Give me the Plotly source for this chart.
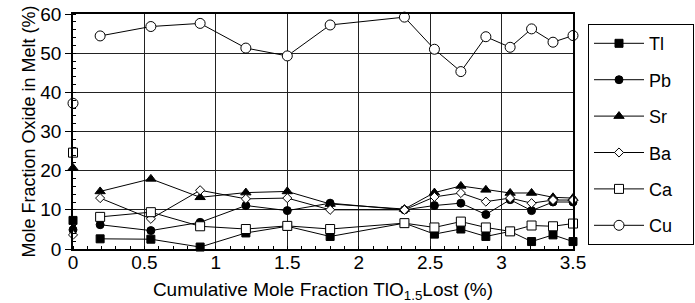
import plotly.graph_objects as go

x_lost = [0, 0.19, 0.545, 0.89, 1.21, 1.5, 1.8, 2.32, 2.53, 2.715, 2.89, 3.06, 3.21, 3.36, 3.5]

tl = [7.3, 2.6, 2.5, 0.5, 4.1, 5.8, 3.2, 6.6, 3.8, 5.1, 3.2, 4.5, 1.9, 3.6, 1.9]
pb = [4.9, 6.2, 4.7, 6.8, 11.1, 9.8, 11.7, 10.0, 11.1, 11.7, 8.8, 12.6, 9.8, 12.0, 12.0]
sr = [20.7, 14.7, 17.9, 13.2, 14.4, 14.7, 11.5, 10.2, 14.4, 16.1, 15.1, 14.3, 14.3, 13.2, 13.0]
ba = [3.6, 13.0, 7.7, 15.0, 12.8, 13.0, 10.0, 10.0, 13.3, 14.3, 12.1, 13.0, 11.7, 12.5, 12.5]
ca = [24.6, 8.2, 9.4, 5.8, 5.1, 5.9, 5.1, 6.6, 5.5, 7.0, 5.5, 4.5, 6.0, 5.8, 6.5]
cu = [37.2, 54.4, 56.8, 57.6, 51.3, 49.3, 57.2, 59.2, 51.0, 45.3, 54.2, 51.5, 56.2, 52.8, 54.5]

series = [
    ("Tl", tl, "square", "black", 8),
    ("Pb", pb, "circle", "black", 8),
    ("Sr", sr, "triangle-up", "black", 9),
    ("Ba", ba, "diamond", "white", 7),
    ("Ca", ca, "square", "white", 9),
    ("Cu", cu, "circle", "white", 10),
]

pad = "\u00a0" * 3  # widens the legend box like the reference

fig = go.Figure()
for i, (name, vals, sym, fill, sz) in enumerate(series):
    mk = dict(symbol=sym, size=sz, color=fill, line=dict(color="black", width=1))
    # starting composition (x = 0) is plotted unconnected
    fig.add_trace(go.Scatter(
        x=x_lost[:1], y=vals[:1], mode="markers", marker=mk,
        showlegend=False, legendgroup=f"g{i}", cliponaxis=False,
    ))
    fig.add_trace(go.Scatter(
        x=x_lost[1:], y=vals[1:], name=name + pad, mode="lines+markers",
        line=dict(color="black", width=1), marker=mk,
        legendgroup=f"g{i}", cliponaxis=False,
    ))

fnt = "Liberation Sans, Arial, Helvetica, sans-serif"
fig.update_layout(
    width=695, height=303,
    margin=dict(l=73, r=122, t=14, b=54, autoexpand=False),
    paper_bgcolor="white", plot_bgcolor="white",
    font=dict(family=fnt, size=19, color="black"),
    showlegend=True,
    legend=dict(
        x=1.03, xanchor="left", y=0.957, yanchor="top",
        bordercolor="black", borderwidth=1,
        tracegroupgap=10, itemwidth=50,
        font=dict(size=18),
    ),
)
fig.update_xaxes(
    range=[0, 3.5], tickvals=[0, 0.5, 1, 1.5, 2, 2.5, 3, 3.5],
    ticktext=["0", "0.5", "1", "1.5", "2", "2.5", "3", "3.5"],
    showgrid=True, gridcolor="#222", gridwidth=1,
    showline=True, linecolor="black", linewidth=1.5, mirror=True,
    ticks="", zeroline=False, ticklabelstandoff=-5,
    minor=dict(ticks="inside", dtick=0.1, ticklen=3, tickcolor="black", showgrid=False),
    title=dict(text="Cumulative Mole Fraction TlO<sub>1.5</sub>Lost (%)", standoff=12,
               font=dict(size=19)),
    tickfont=dict(size=19),
)
fig.update_yaxes(
    range=[0, 60], dtick=10,
    showgrid=True, gridcolor="#222", gridwidth=1,
    showline=True, linecolor="black", linewidth=1.5, mirror=True,
    ticks="outside", ticklen=6, tickcolor="black", zeroline=False,
    minor=dict(ticks="inside", dtick=2, ticklen=3, tickcolor="black", showgrid=False),
    title=dict(text="Mole Fraction Oxide in Melt (%)", standoff=0, font=dict(size=18)),
    tickfont=dict(size=19),
)
fig.write_html("out.html", config={"displayModeBar": False},
               post_script="document.body.style.margin='0';")
